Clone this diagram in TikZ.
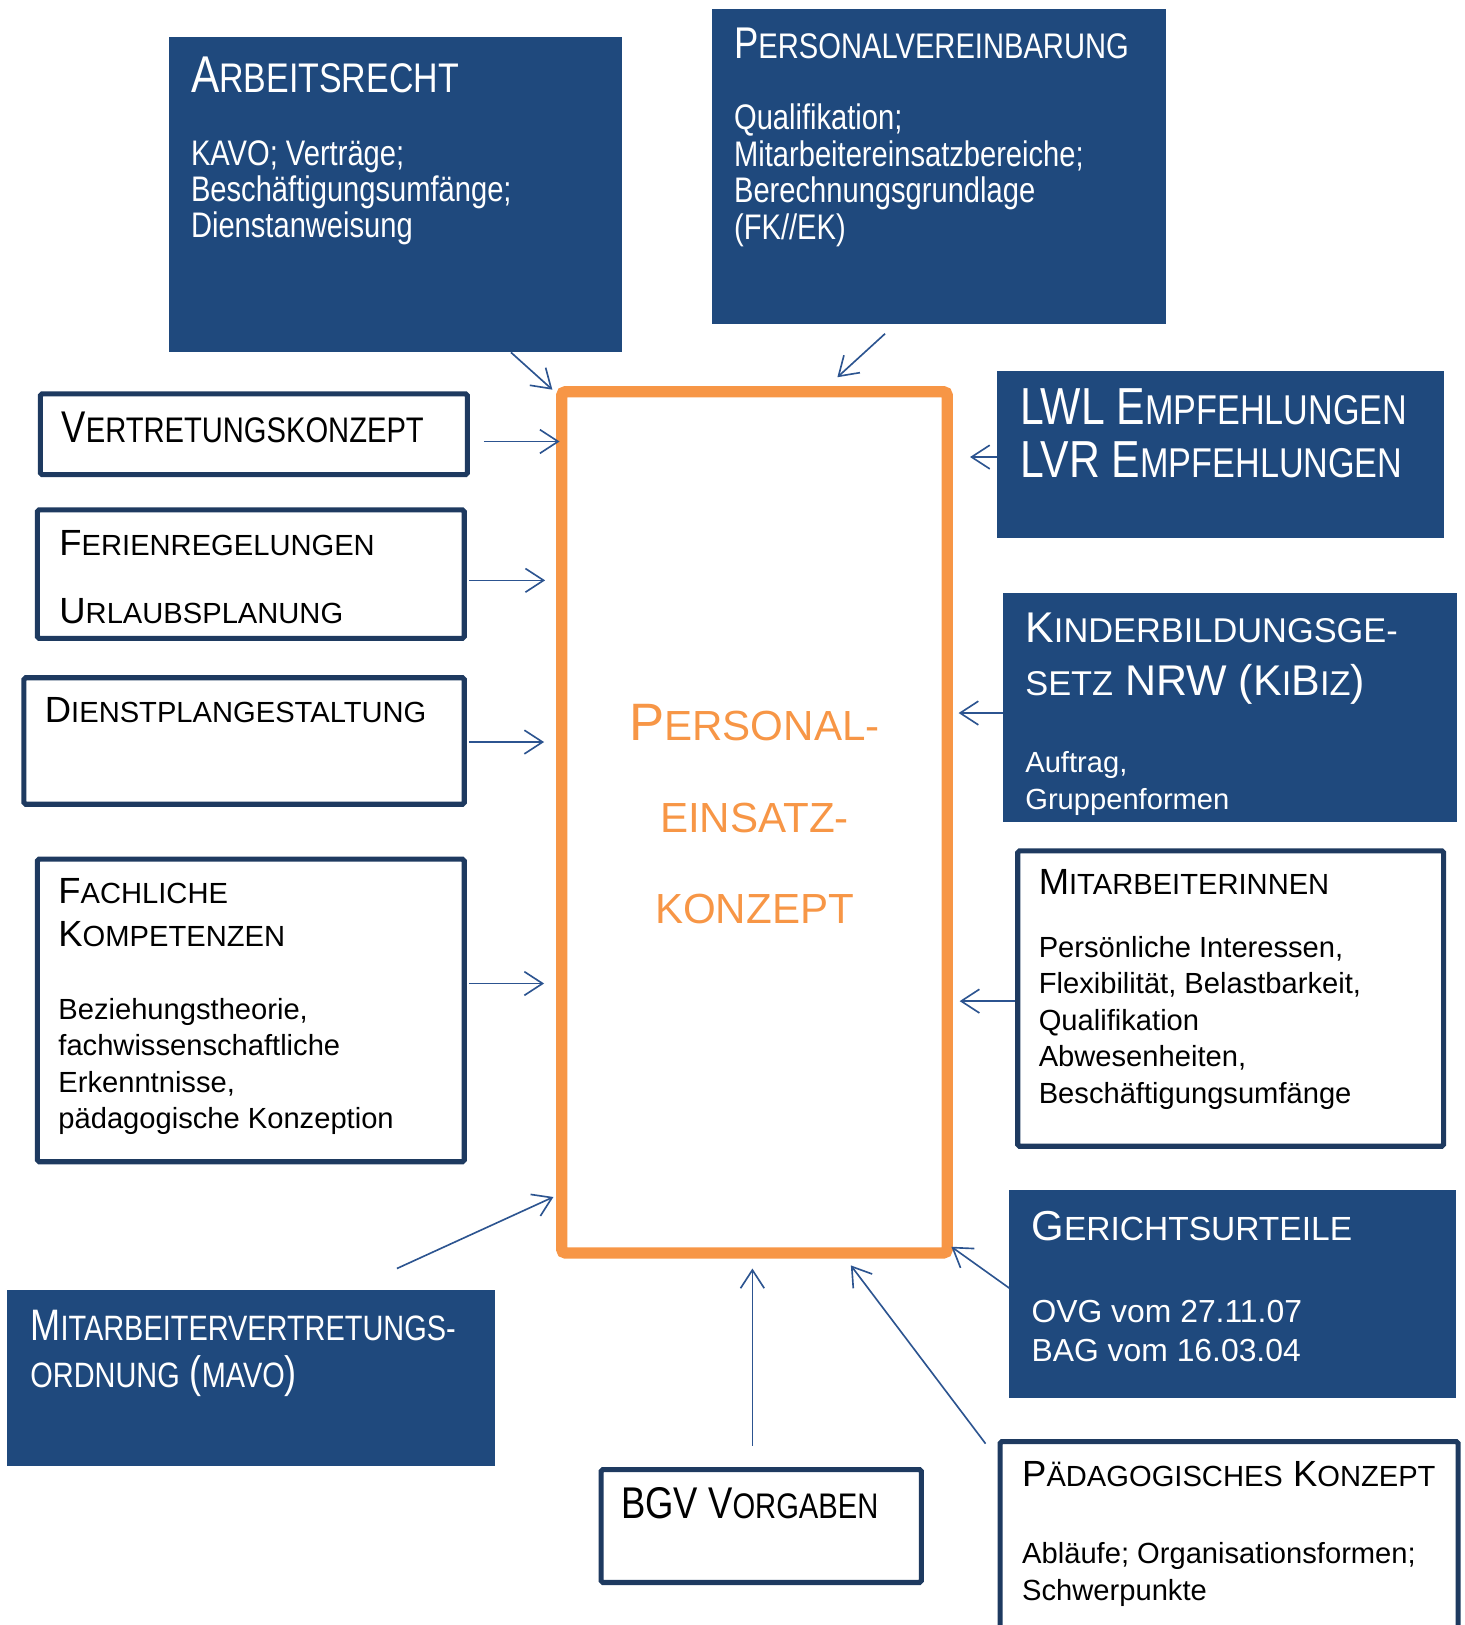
\documentclass[tikz,border=0pt]{standalone}
\usepackage{fontspec}
\usepackage{relsize}
\usepackage{tikz}
\usetikzlibrary{fit,calc,arrows.meta}
\setmainfont{Liberation Sans}
\newfontfamily\narrowfont[FakeStretch=0.82]{Liberation Sans}
\newcommand\kap[2]{#1\textscale{0.8}{#2}}
\definecolor{boxblue}{HTML}{1F497D}
\definecolor{boxline}{HTML}{1E3A60}
\definecolor{arrowblue}{HTML}{2C5490}
\definecolor{konzeptorange}{HTML}{F79646}

\begin{document}
\begin{tikzpicture}
  [x=0.2mm, y=-0.2mm,
   darkbox/.style={fill=boxblue, inner sep=0pt, outer sep=0pt},
   lightbox/.style={draw=boxline, line width=2.8pt, rounded corners=1pt, fill=white, inner sep=0pt, outer sep=0pt},
   txt/.style={anchor=north west, inner sep=0pt, align=left},
   wtxt/.style={txt, text=white},
   arr/.style={draw=arrowblue, line width=0.9pt, -{Straight Barb[length=10pt,width=13pt]}}]
  \useasboundingbox (0,0) rectangle (1413,1568);

  % centre
  \node[draw=konzeptorange, line width=6.2pt, rounded corners=2pt, inner sep=0pt, outer sep=0pt,
    fit={(542,378) (914,1209)}] (ctr) {};
  \node[anchor=north, inner sep=0pt, align=center, text=konzeptorange,
    font=\fontsize{28.9}{50.4}\selectfont] (ctr-t) at (728,679)
    {\kap{P}{ERSONAL-}\\\textscale{0.8}{EINSATZ-}\\\textscale{0.8}{KONZEPT}};

  % dark boxes
  \node[darkbox, fit={(163,36) (600,340)}] (arb) {};
  \node[wtxt, font=\narrowfont\fontsize{28.4}{34}\selectfont] (arb-t)
    at ([shift={(21,19)}]arb.north west) {\kap{A}{RBEITSRECHT}};
  \node[wtxt, font=\narrowfont\fontsize{19.5}{20}\selectfont] (arb-b)
    at ([shift={(21,99)}]arb.north west)
    {KAVO; Verträge;\\Beschäftigungsumfänge;\\Dienstanweisung};

  \node[darkbox, fit={(687,9) (1125,313)}] (pv) {};
  \node[wtxt, font=\narrowfont\fontsize{24.4}{30}\selectfont] (pv-t)
    at ([shift={(21,18)}]pv.north west) {\kap{P}{ERSONALVEREINBARUNG}};
  \node[wtxt, font=\narrowfont\fontsize{19.5}{20}\selectfont] (pv-b)
    at ([shift={(21,91)}]pv.north west)
    {Qualifikation;\\Mitarbeitereinsatzbereiche;\\Berechnungsgrundlage\\(FK//EK)};

  \node[darkbox, fit={(962,358) (1393,519)}] (lwl) {};
  \node[wtxt, font=\narrowfont\fontsize{28.6}{29}\selectfont] (lwl-t)
    at ([shift={(22,17)}]lwl.north west)
    {LWL \kap{E}{MPFEHLUNGEN}\\LVR \kap{E}{MPFEHLUNGEN}};

  \node[darkbox, fit={(968,572) (1406,793)}] (kb) {};
  \node[wtxt, font=\fontsize{23.6}{29}\selectfont] (kb-t)
    at ([shift={(21,19)}]kb.north west)
    {\kap{K}{INDERBILDUNGSGE-}\\\textscale{0.8}{SETZ} NRW (\kap{K}{I}\kap{B}{IZ})};
  \node[wtxt, font=\fontsize{16}{20}\selectfont] (kb-b)
    at ([shift={(21,153)}]kb.north west) {Auftrag,\\Gruppenformen};

  \node[darkbox, fit={(974,1148) (1405,1349)}] (gu) {};
  \node[wtxt, font=\fontsize{23}{28}\selectfont] (gu-t)
    at ([shift={(21,20)}]gu.north west) {\kap{G}{ERICHTSURTEILE}};
  \node[wtxt, font=\fontsize{17.5}{21.6}\selectfont] (gu-b)
    at ([shift={(21,106)}]gu.north west) {OVG vom 27.11.07\\BAG vom 16.03.04};

  \node[darkbox, fit={(7,1245) (478,1415)}] (mv) {};
  \node[wtxt, font=\narrowfont\fontsize{24.2}{25.6}\selectfont] (mv-t)
    at ([shift={(22,19)}]mv.north west)
    {\kap{M}{ITARBEITERVERTRETUNGS-}\\\textscale{0.8}{ORDNUNG} (\textscale{0.8}{MAVO})};

  % light boxes
  \node[lightbox, fit={(39,380) (451,458)}] (vk) {};
  \node[txt, font=\narrowfont\fontsize{24.4}{30}\selectfont] (vk-t)
    at ([shift={(20,17)}]vk.north west) {\kap{V}{ERTRETUNGSKONZEPT}};

  \node[lightbox, fit={(36,492) (448,616)}] (fr) {};
  \node[txt, font=\fontsize{20}{37.6}\selectfont] (fr-t)
    at ([shift={(21,19)}]fr.north west)
    {\kap{F}{ERIENREGELUNGEN}\\\kap{U}{RLAUBSPLANUNG}};

  \node[lightbox, fit={(23,654) (448,776)}] (dp) {};
  \node[txt, font=\fontsize{20}{24}\selectfont] (dp-t)
    at ([shift={(20,19)}]dp.north west) {\kap{D}{IENSTPLANGESTALTUNG}};

  \node[lightbox, fit={(36,829) (448,1121)}] (fk) {};
  \node[txt, font=\fontsize{20}{24}\selectfont] (fk-t)
    at ([shift={(20,18)}]fk.north west) {\kap{F}{ACHLICHE}\\\kap{K}{OMPETENZEN}};
  \node[txt, font=\fontsize{16}{20}\selectfont] (fk-b)
    at ([shift={(20,134)}]fk.north west)
    {Beziehungstheorie,\\fachwissenschaftliche\\Erkenntnisse,\\pädagogische Konzeption};

  \node[lightbox, fit={(982,821) (1393,1106)}] (ma) {};
  \node[txt, font=\fontsize{20}{24}\selectfont] (ma-t)
    at ([shift={(20,18)}]ma.north west) {\kap{M}{ITARBEITERINNEN}};
  \node[txt, font=\fontsize{16}{20}\selectfont] (ma-b)
    at ([shift={(20,82)}]ma.north west)
    {Persönliche Interessen,\\Flexibilität, Belastbarkeit,\\Qualifikation\\Abwesenheiten,\\Beschäftigungsumfänge};

  \node[lightbox, fit={(965,1391) (1407,1600)}] (pk) {};
  \node[txt, font=\fontsize{20}{24}\selectfont] (pk-t)
    at ([shift={(21,19)}]pk.north west) {\kap{P}{ÄDAGOGISCHES} \kap{K}{ONZEPT}};
  \node[txt, font=\fontsize{16}{20}\selectfont] (pk-b)
    at ([shift={(21,97)}]pk.north west) {Abläufe; Organisationsformen;\\Schwerpunkte};

  \node[lightbox, fit={(580,1418) (889,1527)}] (bgv) {};
  \node[txt, font=\narrowfont\fontsize{24.4}{30}\selectfont] (bgv-t)
    at ([shift={(19,17)}]bgv.north west) {BGV \kap{V}{ORGABEN}};

  % arrows into the centre
  \draw[arr] ($(arb.south east)+(-107,0)$) -- ($(ctr.north west)+(-9,-2)$);
  \draw[arr] ($(pv.south)+(-52,9)$) -- ($(ctr.north)+(80,-14)$);
  \draw[arr] ($(vk.east)+(16,7)$) -- ($(vk.east -| ctr.west)+(-2,7)$);
  \draw[arr] ($(fr.east)+(5,6)$) -- ($(fr.east -| ctr.west)+(-16,6)$);
  \draw[arr] ($(dp.east)+(5,1)$) -- ($(dp.east -| ctr.west)+(-17,1)$);
  \draw[arr] ($(fk.east)+(5,-26)$) -- ($(fk.east -| ctr.west)+(-17,-26)$);
  \draw[arr] ($(lwl.west)+(0,2.5)$) -- ($(lwl.west -| ctr.east)+(22,2.5)$);
  \draw[arr] ($(kb.west)+(0,5.5)$) -- ($(kb.west -| ctr.east)+(11,5.5)$);
  \draw[arr] ($(ma.west)+(-3,2.5)$) -- ($(ma.west -| ctr.east)+(12,2.5)$);
  \draw[arr] ($(gu.west)+(0,-5.5)$) -- ($(ctr.south east)+(4,-6)$);
  \draw[arr] ($(pk.north west)+(-14,2)$) -- ($(ctr.south)+(93,12)$);
  \draw[arr] ($(bgv.north)+(-8.5,-23)$) -- ($(ctr.south)+(-2,15)$);
  \draw[arr] ($(mv.north)+(140.5,-21)$) -- ($(ctr.south west)+(-8,-54)$);
\end{tikzpicture}
\end{document}
